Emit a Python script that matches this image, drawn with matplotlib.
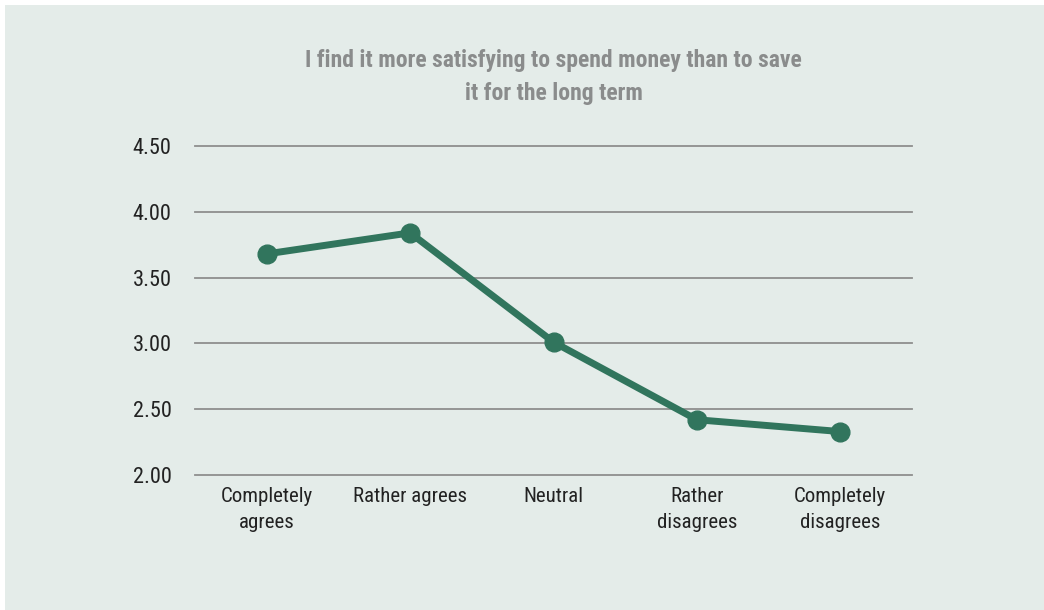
import matplotlib
matplotlib.use("Agg")
import matplotlib.pyplot as plt
import matplotlib.patches as patches

categories = ["Completely\nagrees", "Rather agrees", "Neutral",
              "Rather\ndisagrees", "Completely\ndisagrees"]
scores = [3.68, 3.84, 3.01, 2.42, 2.33]
yticks = [2.00, 2.50, 3.00, 3.50, 4.00, 4.50]
title = "I find it more satisfying to spend money than to save\nit for the long term"

BG = "#e4ece9"
LINE = "#31755d"
GRID = "#8e8e8e"

plt.rcParams["font.family"] = ["Roboto Condensed", "Liberation Sans Narrow",
                               "Roboto", "DejaVu Sans"]

fig = plt.figure(figsize=(10.44, 6.10), dpi=100)
fig.patch.set_facecolor("white")
# shaded panel behind everything, leaving a thin white margin top/left
fig.patches.append(patches.Rectangle((5 / 1044, 0), 1 - 5 / 1044, 1 - 5 / 610,
                                     transform=fig.transFigure, facecolor=BG,
                                     edgecolor="none", zorder=-10))

ax = fig.add_axes([195 / 1044, 1 - 475 / 610, 717 / 1044, 329 / 610])
ax.set_facecolor("none")

x = list(range(len(categories)))
ax.plot(x, scores, color=LINE, lw=5, marker="o", markersize=13.5,
        solid_capstyle="round", zorder=3)

ax.set_xlim(-0.5, len(categories) - 0.5)
ax.set_ylim(yticks[0], yticks[-1])
ax.set_yticks(yticks)
ax.set_yticklabels(["%.2f" % v for v in yticks])
ax.set_xticks(x)
ax.set_xticklabels(categories, linespacing=1.45)
ax.tick_params(axis="y", length=0, pad=17, labelsize=16, labelcolor="#222222")
ax.tick_params(axis="x", length=0, pad=9, labelsize=15, labelcolor="#222222")

for v in yticks:
    ax.axhline(v, color=GRID, lw=1.3, zorder=1, clip_on=False)
for s in ax.spines.values():
    s.set_visible(False)

fig.text(553.5 / 1044, 1 - 77 / 610, title, ha="center", va="center",
         fontsize=17, fontweight="bold", color="#8a8c8c", linespacing=1.55)

fig.savefig("out.png", dpi=100, facecolor=fig.get_facecolor())
